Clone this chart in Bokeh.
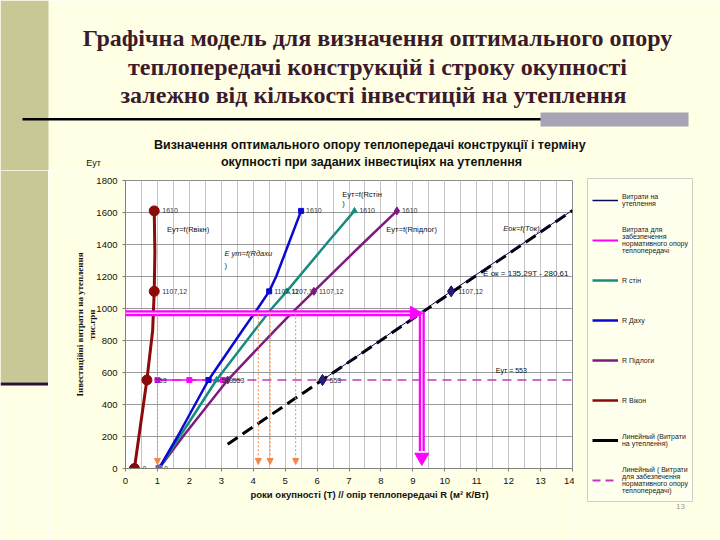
import numpy as np
from bokeh.plotting import figure
from bokeh.layouts import row, column
from bokeh.models import (Range1d, Label, LabelSet, ColumnDataSource, Legend, LegendItem,
                          Arrow, NormalHead, SingleIntervalTicker, FixedTicker, Title)
from bokeh.core.properties import value
from bokeh.embed import file_html
from bokeh.resources import INLINE

# ---------------- data ----------------
E_key = [0, 553, 1107.12, 1610]

win_T = [0.28, 0.67, 0.9, 0.9]
win_labels = ["0", "553", "1107,12", "1610"]
win_line_T = [0.28, 0.42, 0.67, 0.85, 0.9, 0.92, 0.9]
win_line_E = [0, 200, 553, 862, 1107.12, 1350, 1610]

roof_T = [1.05, 2.6, 4.5, 5.5]
roof_labels = ["", "", "1107,12", "1610"]
roof_line_T = [1.05, 1.63, 2.6, 3.66, 4.14, 4.5, 4.72, 5.1, 5.5]
roof_line_E = [0, 200, 553, 862, 1000, 1107.12, 1200, 1400, 1610]

wall_T = [1.05, 2.85, 5.05, 7.17]
wall_labels = ["", "553", "1107,12", "1610"]
wall_line_T = [1.05, 1.7, 2.85, 4.04, 4.58, 5.05, 6.38, 7.17]
wall_line_E = [0, 200, 553, 862, 1000, 1107.12, 1425, 1610]

floor_T = [1.05, 3.2, 5.9, 8.5]
floor_labels = ["0", "553", "1107,12", "1610"]
floor_line_T = [1.05, 1.8, 3.2, 4.67, 5.25, 5.9, 7.4, 8.5]
floor_line_E = [0, 200, 553, 862, 980, 1107.12, 1400, 1610]

invest_T = [6.17, 10.2, 13.97]
invest_E = [553, 1107.12, 1610]
invest_labels = ["553", "1107,12", ""]
invest_marked = [True, True, False]

trend_T = [3.2, 14.0]
trend_E = [152, 1613]

norm_T = [1.0, 2.0, 2.6, 3.05]
norm_E = [553, 553, 553, 553]
norm_trend_T = [1.0, 14.0]
norm_trend_E = [553, 553]

opt_T = 9.25
budget_E = 970
drop_T = [1.0, 4.16, 4.53, 5.33]
drop_bottom_E = 25

y_ticks = list(range(0, 1801, 200))

legend_labels = [
    "Витрати на\nутеплення",
    "Витрата для\nзабезпечення\nнормативного опору\nтеплопередачі",
    "R стін",
    "R Даху",
    "R Підлоги",
    "R Вікон",
    "Линейный (Витрати\nна утеплення)",
    "Линейный ( Витрати\nдля забезпечення\nнормативного опору\nтеплопередачі)",
]

# ---------------- styles ----------------
RED = "#8B0A0A"
BLUE = "#0A0ACF"
TEAL = "#168C7E"
PURPLE = "#7E1A80"
NAVY = "#0A0A5A"
MAGENTA = "#FF00FF"
NORMDASH = "#C236C2"
ORANGE = "#F2874B"
CREAM = "#FFFFE5"
OLIVE = "#C8C896"
SANS = "Liberation Sans"
SERIF = "Liberation Serif"
TITLE_C = "#3B1B2B"


def blank(w, h):
    f = figure(width=w, height=h, x_range=Range1d(0, w), y_range=Range1d(h, 0),
               output_backend="svg", toolbar_location=None, title=None,
               x_axis_type=None, y_axis_type=None, min_border=0,
               background_fill_color=CREAM, border_fill_color=CREAM, outline_line_color=None)
    f.xgrid.visible = False
    f.ygrid.visible = False
    return f


# ================= top part: slide title + chart title (window y 0..170) =================
top = blank(720, 170)
top.quad(left=[0], right=[48], top=[0], bottom=[170], fill_color=OLIVE, line_color=None)
top.quad(left=[22], right=[687], top=[117.5], bottom=[120], fill_color="black", line_color=None)
top.quad(left=[540], right=[688], top=[112], bottom=[126], fill_color="#A9A3B5", line_color=None)
top.text(x=[377, 380, 376], y=[37, 66, 94],
         text=["Графічна модель для визначення оптимального опору",
               "теплопередачі конструкцій  і строку окупності",
               "залежно від кількості інвестицій  на утеплення"],
         text_font=value(SERIF), text_font_size="24px", text_font_style="bold",
         text_color=TITLE_C, text_align="center", text_baseline="middle")
top.text(x=[371, 371], y=[144, 161],
         text=["Визначення  оптимального опору теплопередачі конструкції і терміну",
               "окупності при заданих інвестиціях на утеплення"],
         text_font=value(SANS), text_font_size="12.5px", text_font_style="bold",
         text_color="#111111", text_align="center", text_baseline="middle")
top.text(x=[93], y=[162], text=["Eут"], text_font=value(SANS), text_font_size="9px",
         text_color="#111111", text_align="center", text_baseline="middle")

# ================= left strip (window y 170..540) =================
strip = blank(48, 370)
strip.quad(left=[0], right=[48], top=[0], bottom=[212], fill_color=OLIVE, line_color=None)
strip.quad(left=[0], right=[48], top=[212], bottom=[215], fill_color="#2E0F2E", line_color=None)

# ================= chart =================
p = figure(width=526, height=370, x_range=Range1d(0, 14), y_range=Range1d(0, 1800),
           output_backend="svg", toolbar_location=None, title=None,
           min_border_left=77, min_border_right=2, min_border_top=10, min_border_bottom=72,
           background_fill_color="white", border_fill_color=CREAM,
           outline_line_color="#8c8c8c")

p.xaxis.ticker = SingleIntervalTicker(interval=1, num_minor_ticks=2)
p.yaxis.ticker = FixedTicker(ticks=y_ticks)
for ax in (p.xaxis[0], p.yaxis[0]):
    ax.major_label_text_font = SANS
    ax.major_label_text_font_size = "9.5px"
    ax.major_label_text_color = "#111111"
    ax.axis_line_color = "#7f7f7f"
    ax.major_tick_line_color = "#7f7f7f"
    ax.minor_tick_line_color = None
    ax.major_tick_out = 3
    ax.major_tick_in = 0
p.yaxis.axis_label = "Інвестиційні витрати на утеплення\nтис.грн"
p.yaxis.axis_label_text_font = SERIF
p.yaxis.axis_label_text_font_size = "9px"
p.yaxis.axis_label_text_font_style = "bold"
p.yaxis.axis_label_text_color = "#111111"
p.yaxis.axis_label_standoff = -4
p.add_layout(Title(text="роки окупності (T) // опір теплопередачі R (м² К/Вт)", align="left",
                   offset=125, text_font=SANS, text_font_size="9.5px", text_font_style="bold",
                   text_color="#111111", standoff=0), "below")
p.xgrid.grid_line_color = "#c4c4c4"
p.xgrid.minor_grid_line_color = "#c4c4c4"
p.ygrid.grid_line_color = "#9a9a9a"

# orange dotted drop arrows
drop_src = ColumnDataSource(dict(x=drop_T, y0=[budget_E] * len(drop_T), y1=[drop_bottom_E] * len(drop_T)))
p.add_layout(Arrow(source=drop_src, x_start="x", y_start="y0", x_end="x", y_end="y1",
                   line_color=ORANGE, line_width=1, line_dash="2 2",
                   end=NormalHead(size=6, fill_color=ORANGE, line_color=ORANGE)))

# trend lines
p.line(norm_trend_T, norm_trend_E, line_color=NORMDASH, line_width=1.5, line_dash="9 6")
p.line(trend_T, trend_E, line_color="black", line_width=3, line_dash="12 6")

# investment series
p.line(invest_T, invest_E, line_color=NAVY, line_width=1)
mk_T = [t for t, m in zip(invest_T, invest_marked) if m]
mk_E = [e for e, m in zip(invest_E, invest_marked) if m]
p.scatter(mk_T, mk_E, marker="diamond", size=11, fill_color="#2a1a7a", line_color=NAVY)

# normative series
p.line(norm_T, norm_E, line_color=MAGENTA, line_width=1.5)
p.scatter(norm_T, norm_E, marker="square", size=5, fill_color=MAGENTA, line_color=MAGENTA)

# R curves
p.line(floor_line_T, floor_line_E, line_color=PURPLE, line_width=2.5)
p.scatter(floor_T, E_key, marker="diamond", size=8, fill_color=PURPLE, line_color=PURPLE)
p.line(wall_line_T, wall_line_E, line_color=TEAL, line_width=2.5)
p.scatter(wall_T, E_key, marker="triangle", size=6, fill_color=TEAL, line_color=TEAL)
p.line(roof_line_T, roof_line_E, line_color=BLUE, line_width=2.5)
p.scatter(roof_T, E_key, marker="square", size=5, fill_color=BLUE, line_color=BLUE)
p.line(win_line_T, win_line_E, line_color=RED, line_width=3)
p.scatter(win_T, E_key, marker="circle", size=10, fill_color=RED, line_color=RED)
p.scatter([floor_T[0]], [E_key[0]], marker="square", size=6, fill_color="#6a6a8a", line_color="#6a6a8a")

# magenta elbow arrow (budget -> optimum), hollow double line look
p.line([0, opt_T - 0.3], [budget_E, budget_E], line_color=MAGENTA, line_width=6)
p.line([opt_T + 0.03, opt_T + 0.03], [budget_E + 12, 110], line_color=MAGENTA, line_width=6)
p.line([0, opt_T - 0.3], [budget_E, budget_E], line_color="#FFD8FF", line_width=1.5)
p.line([opt_T + 0.03, opt_T + 0.03], [budget_E + 12, 110], line_color="#FFD8FF", line_width=1.5)
p.scatter([opt_T - 0.2], [budget_E], marker="triangle", angle=-np.pi / 2, size=14,
          fill_color=MAGENTA, line_color=MAGENTA)
p.scatter([opt_T + 0.03], [70], marker="inverted_triangle", size=14,
          fill_color=MAGENTA, line_color=MAGENTA)

# data labels
for T, labs in ((win_T, win_labels), (roof_T, roof_labels), (wall_T, wall_labels), (floor_T, floor_labels)):
    off = 8 if T is win_T else 5
    src = ColumnDataSource(dict(x=T, y=E_key, t=labs))
    p.add_layout(LabelSet(source=src, x="x", y="y", text="t", x_offset=off, text_baseline="middle",
                          text_font=value(SANS), text_font_size="7px", text_color="#333333"))
inv_src = ColumnDataSource(dict(x=invest_T, y=invest_E, t=invest_labels))
p.add_layout(LabelSet(source=inv_src, x="x", y="y", text="t", x_offset=7, text_baseline="middle",
                      text_font=value(SANS), text_font_size="7px", text_color="#333333"))


def dlabel(text, x, y, size="7.5px", style="normal"):
    p.add_layout(Label(x=x, y=y, text=text, text_font=SANS, text_font_size=size,
                       text_font_style=style, text_baseline="middle", text_color="#111111"))


dlabel("Eут=f(Rвікн)", 1.3, 1494)
dlabel("E ут=f(Rдахи", 3.1, 1344, style="italic")
dlabel(")", 3.1, 1269)
dlabel("Eут=f(Rстін", 6.79, 1712)
dlabel(")", 6.79, 1658)
dlabel("Eут=f(Rпідлог)", 8.17, 1492)
dlabel("Eок=f(Tок)", 11.83, 1498, style="italic")
dlabel("E ок = 135,29T - 280,61", 11.2, 1221, size="8px")
dlabel("Eут = 553", 11.6, 610, size="7px")

# ================= legend panel (own figure, window y 170..540) =================
lg = blank(146, 370)
lg.text(x=[106], y=[336], text=["13"], text_font=value(SANS), text_font_size="8px",
        text_color="#9a9a9a", text_align="center", text_baseline="middle")
OFF = [-100, -90]   # key glyphs' own data kept outside the visible panel
OFFY = [-100, -100]
key_styles = [
    dict(line_color=NAVY, line_width=1.5),
    dict(line_color=MAGENTA, line_width=2),
    dict(line_color=TEAL, line_width=2.5),
    dict(line_color=BLUE, line_width=2.5),
    dict(line_color=PURPLE, line_width=2.5),
    dict(line_color=RED, line_width=2.5),
    dict(line_color="black", line_width=3),
    dict(line_color=NORMDASH, line_width=2, line_dash="8 5"),
]
legend = Legend(items=[LegendItem(label=lab, renderers=[lg.line(OFF, OFFY, **st)])
                       for lab, st in zip(legend_labels, key_styles)],
                location=(13, 38))
legend.label_text_font = SANS
legend.label_text_font_size = "7px"
legend.label_text_color = "#222222"
legend.label_height = 34
legend.glyph_height = 34
legend.glyph_width = 26
legend.spacing = 6
legend.padding = 4
legend.margin = 0
legend.label_standoff = 4
legend.background_fill_color = "#FFFFEE"
legend.border_line_color = "#a0a0a0"
lg.add_layout(legend)

layout = column(top, row(column(strip), p, column(lg), spacing=0), spacing=0)

open("out.html", "w").write(file_html(layout, INLINE))
